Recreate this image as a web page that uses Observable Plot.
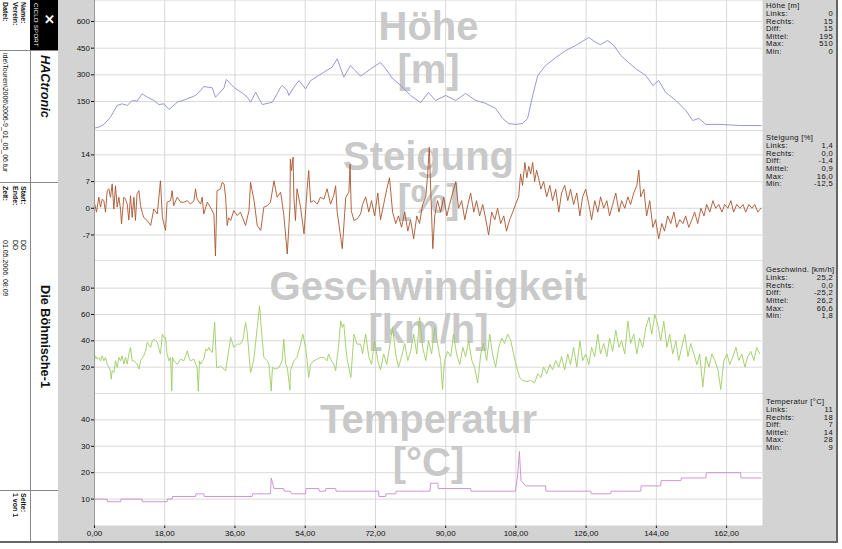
<!DOCTYPE html>
<html><head><meta charset="utf-8">
<script src="https://cdn.jsdelivr.net/npm/d3@7"></script>
<script src="https://cdn.jsdelivr.net/npm/@observablehq/plot@0.6"></script>
<style>
body{margin:0;background:#fff;font-family:"Liberation Sans",Arial,sans-serif;}
#root{position:relative;width:842px;height:549px;overflow:hidden;background:#fff;}
#root div{position:absolute;}
.v{writing-mode:vertical-rl;white-space:nowrap;color:#111;}
.s{height:7.6px;line-height:7.6px;font-size:7.6px;letter-spacing:0.35px;color:#111;white-space:nowrap;overflow:visible;}
</style></head><body><div id="root"></div><script>
// ---------- data ----------
const xTicks = [0,18,36,54,72,90,108,126,144,162];
const hoeheTicks = [150,300,450,600];
const steigTicks = [-7,0,7,14];
const speedTicks = [20,40,60,80];
const tempTicks = [10,20,30,40];

const hoehe = [[0,0],[1.1,6],[2.4,21],[4.1,62],[5.8,128],[7.1,137],[8.4,128],[9.7,156],[10.9,152],[12.2,193],[13.6,174],[15.2,156],[16.5,133],[17.8,137],[19.1,105],[21.2,146],[23.3,161],[25.9,184],[27.2,212],[28.0,234],[30.2,227],[31.0,174],[33.2,227],[33.8,274],[35.7,230],[37.9,197],[39.2,174],[40.0,146],[41.3,202],[43.0,133],[45.6,146],[47.7,230],[48.1,240],[49.4,212],[49.8,184],[51.1,230],[52.4,268],[54.1,221],[55.4,268],[58.8,315],[60.9,343],[62.2,390],[63.9,287],[65.6,352],[68.2,292],[69.5,313],[72.0,352],[73.3,369],[74.6,335],[76.4,279],[78.5,240],[81.0,184],[83.6,144],[85.6,201],[87.4,156],[90.0,184],[92.6,156],[95.1,195],[97.7,156],[100.3,139],[102.8,111],[104.6,55],[106.1,26],[107.9,21],[109.7,26],[111.0,55],[112.3,184],[113.6,296],[115.6,352],[118.2,397],[120.8,437],[123.3,465],[125.4,493],[126.7,510],[128.5,482],[129.7,470],[131.5,493],[133.1,465],[134.9,409],[136.9,369],[138.7,335],[141.3,296],[143.1,240],[144.6,268],[146.4,201],[149.0,156],[151.6,99],[153.3,43],[154.9,55],[156.7,21],[160.5,21],[165.6,15],[170.8,15]];

const steigung = [[0,1.4],[0.51,-1.0],[1.11,2.9],[1.54,0.3],[1.97,2.4],[2.39,2.0],[2.82,-1.0],[3.25,4.6],[3.68,5.1],[4.1,2.9],[4.53,6.4],[4.96,-0.2],[5.38,5.9],[5.81,0.3],[6.24,2.9],[6.67,-0.2],[6.92,-4.1],[7.52,2.9],[7.95,2.4],[8.38,1.1],[8.8,-3.1],[9.23,3.3],[9.66,-2.4],[10.1,2.9],[10.5,-3.2],[10.9,3.8],[11.4,4.6],[11.8,0.7],[12.2,-1.0],[12.6,-2.4],[13.5,-3.2],[14.4,-4.5],[15.2,-0.2],[16.1,-1.5],[16.9,7.2],[17.4,-2.4],[17.8,-4.1],[18.2,-5.8],[18.6,1.6],[19.5,2.0],[19.9,4.6],[20.3,0.7],[21.2,2.9],[22.1,1.6],[22.9,1.6],[23.8,2.0],[24.6,1.1],[25.5,2.0],[25.9,5.1],[26.3,2.4],[27.2,1.1],[27.6,2.9],[28.0,-1.5],[28.9,1.6],[29.7,0.3],[30.6,-1.5],[31.0,-12.5],[31.4,4.6],[32.3,5.1],[32.7,6.8],[33.2,6.4],[33.6,2.9],[34.0,-4.5],[34.4,-2.5],[34.9,-3.2],[35.7,-0.6],[36.6,-1.9],[37.4,-1.0],[38.7,-4.5],[39.6,-0.6],[40.0,6.8],[40.4,4.6],[40.9,2.0],[41.7,-4.5],[42.6,-5.8],[43.4,0.3],[44.3,0.7],[45.1,1.6],[46.0,7.2],[46.8,2.9],[47.7,4.2],[48.5,-1.5],[49.4,-12.0],[50.1,0.3],[50.2,12.9],[50.5,9.9],[50.9,13.4],[51.1,2.9],[51.5,-3.2],[51.9,5.1],[52.8,0.3],[53.7,-6.7],[54.5,5.1],[54.9,9.9],[55.4,1.6],[56.2,2.0],[57.1,1.1],[57.9,2.9],[58.8,2.4],[59.6,5.1],[60.5,1.1],[61.3,3.3],[61.8,5.9],[62.2,-1.0],[63.1,-7.6],[63.5,-10.6],[64.4,2.9],[65.2,4.2],[65.5,11.6],[65.8,-0.6],[66.5,-3.2],[67.3,-2.8],[68.2,-1.5],
[68.7,1],[69.5,3],[70.3,-1],[71.0,2],[71.8,-2],[72.6,4],[73.3,-3],[74.1,1],[74.9,5],[75.6,8],[76.4,-1],[77.2,-4],[77.9,-2],[78.7,-5],[79.5,-1],[80.3,-6],[81.0,-3],[81.8,-8],[82.6,-2],[83.3,-4],[84.1,1],[84.9,3],[85.4,9],[85.8,16],[86.2,4],[86.7,-10.6],[87.2,-2],[87.9,2],[88.7,-1],[89.5,3],[90.3,-2],[91.0,1],[91.8,4],[92.6,7],[93.3,0],[94.1,2],[94.9,-3],[95.7,1],[96.4,4],[97.2,-1],[97.9,2],[98.7,-2],[99.5,1],[100.3,-3],[101.0,-7],[101.8,-1],[102.6,-3],[103.3,0],[104.1,-4],[104.9,-2],[105.6,-6],[106.4,-3],[107.2,-1],[107.9,1],[108.7,3],[109.2,9],[109.7,6],[110.3,12],[110.8,8],[111.3,11],[111.8,9],[112.3,12],[112.8,7],[113.3,10],[113.8,8],[114.4,5],[115.1,7],[115.9,3],[116.7,6],[117.4,2],[118.2,5],[119.0,-1],[119.7,4],[120.5,6],[121.3,2],[122.0,5],[122.8,1],[123.6,4],[124.4,-2],[125.1,3],[125.9,5],[126.7,1],[127.4,-3],[128.2,2],[129.0,-1],[129.7,3],[130.5,0],[131.3,2],[132.0,-2],[132.8,1],[133.6,4],[134.4,-1],[135.1,2],[135.9,0],[136.7,3],[137.4,1],[138.2,4],[139.0,6],[139.5,10],[140.0,3],[140.8,5],[141.5,-2],[142.3,2],[143.1,-5],[143.8,-3],[144.6,-8],[145.4,-4],[146.1,-6],[146.9,-2],[147.7,-4],[148.5,-1],[149.2,-5],[150.0,-3],[150.8,-4],[151.5,-2],[152.3,-5],[153.1,-3],[153.8,-1],[154.6,-4],[155.4,0],[156.2,-2],[156.9,1],[157.7,-1],[158.5,2],[159.2,0],[160.0,1],[160.8,-1],[161.5,1],[162.3,0],[163.1,2],[163.8,-1],[164.6,1],[165.4,0],[166.2,1],[166.9,-1],[167.7,1],[168.5,0],[169.2,1],[170.0,-1],[170.8,0]];

const speed = [[0,25.2],[0.26,28.6],[0.68,26.1],[1.11,27.4],[1.54,24.8],[1.97,28.6],[2.39,24.8],[2.82,27.4],[3.25,22.3],[3.68,19.8],[4.1,17.2],[4.27,10.9],[4.53,17.2],[4.96,16.0],[5.38,24.8],[5.81,19.8],[6.24,27.4],[6.67,24.8],[7.09,28.6],[7.52,22.3],[7.95,27.4],[8.38,22.3],[8.8,29.9],[9.23,35.0],[9.66,24.8],[10.1,24.8],[10.9,22.3],[11.4,18.5],[11.8,24.8],[12.6,28.6],[13.1,32.4],[13.5,38.8],[14.4,35.0],[14.8,40.0],[15.2,41.3],[16.1,38.8],[16.9,29.9],[17.4,45.1],[17.8,42.6],[18.2,42.6],[18.6,29.9],[19.1,24.8],[19.5,27.4],[19.8,2.0],[20.0,27.4],[20.3,24.8],[21.2,22.3],[22.1,26.1],[22.9,24.8],[23.8,32.4],[24.2,27.4],[24.6,24.8],[25.5,26.1],[25.9,22.3],[26.3,19.8],[26.6,1.8],[26.9,24.8],[27.2,22.3],[28.0,26.1],[28.5,33.7],[28.9,32.4],[29.3,35.0],[29.7,32.4],[30.2,31.2],[30.8,54.0],[31.3,19.8],[31.9,19.8],[32.3,21.0],[33.2,18.5],[33.6,17.2],[34.0,24.8],[34.9,42.6],[35.7,35.0],[36.6,37.5],[37.4,37.5],[38.1,41.3],[38.7,54.0],[39.1,47.6],[39.6,29.9],[40.0,16.0],[40.4,19.8],[40.9,27.4],[41.7,50.2],[42.3,66.6],[42.8,47.6],[43.4,27.4],[44.3,24.8],[44.7,22.3],[45.3,1.8],[45.6,19.8],[46.4,18.5],[47.3,19.8],[48.1,24.8],[48.5,41.3],[49.0,22.3],[49.4,19.8],[50.1,2.5],[50.2,17.2],[51.1,24.8],[51.9,27.4],[52.8,37.5],[53.4,45.1],[54.1,35.0],[54.5,24.8],[54.9,12.2],[55.4,22.3],[56.2,24.8],[57.1,26.1],[57.9,27.4],[58.8,27.4],[59.6,24.8],[60.0,29.9],[60.5,26.1],[61.3,22.3],[61.8,17.2],[62.6,37.5],[63.1,55.2],[63.5,50.2],[63.9,52.7],[64.4,35.0],[64.8,24.8],[65.2,19.8],[65.7,12.2],[66.5,45.1],[67.3,37.5],[68.2,37.5],
[68.7,30],[69.5,45],[70.3,28],[71.0,22],[71.8,40],[72.6,25],[73.3,18],[74.1,30],[74.9,22],[75.6,35],[76.4,50],[77.2,30],[77.9,20],[78.7,28],[79.5,38],[80.3,25],[81.0,32],[81.8,45],[82.6,30],[83.3,58],[84.1,35],[84.9,25],[85.6,40],[86.4,30],[87.2,50],[87.9,38],[88.7,25],[89.2,3],[89.7,25],[90.5,32],[91.3,28],[92.0,45],[92.8,30],[93.6,22],[94.4,35],[95.1,28],[95.9,40],[96.7,25],[97.4,20],[98.2,8],[99.0,30],[99.7,38],[100.5,25],[101.3,45],[102.0,30],[102.8,20],[103.6,35],[104.4,42],[105.1,38],[105.9,45],[106.7,40],[107.4,30],[108.2,20],[109.0,12],[109.7,10],[110.8,9],[111.8,10],[112.8,8],[113.6,15],[114.4,12],[115.1,20],[115.9,15],[116.7,22],[117.4,18],[118.2,25],[119.0,20],[119.7,28],[120.5,18],[121.3,30],[122.0,22],[122.8,35],[123.6,20],[124.4,40],[125.1,25],[125.9,30],[126.7,22],[127.4,35],[128.2,28],[129.0,45],[129.7,30],[130.5,38],[131.3,28],[132.0,42],[132.8,32],[133.6,48],[134.4,35],[135.1,40],[135.9,30],[136.7,55],[137.4,38],[138.2,45],[139.0,30],[139.7,42],[140.5,35],[141.3,50],[142.1,58],[142.8,45],[143.6,60],[144.4,52],[145.1,40],[145.9,55],[146.7,35],[147.4,45],[148.2,30],[149.0,40],[149.7,25],[150.5,35],[151.3,45],[152.1,28],[152.8,38],[153.6,30],[154.4,22],[155.1,30],[155.9,5],[156.7,28],[157.5,20],[158.2,30],[159.0,25],[159.8,18],[160.5,3],[161.3,25],[162.1,30],[162.8,22],[163.6,28],[164.4,35],[165.1,25],[165.9,30],[166.7,20],[167.4,28],[168.2,32],[169.0,25],[169.7,35],[170.5,30]];

const temperatur = [[0,10],[3.25,10],[3.3,9],[6.7,9],[6.75,10],[12.2,10],[12.25,9],[18.6,9],[18.7,10],[19.9,10],[20.0,11],[25.9,11],[26.0,12],[28.0,12],[28.1,11],[40.4,11],[40.5,12],[45.1,12],[45.3,18],[46.0,14],[48.5,14],[48.6,13],[50.2,13],[50.5,12],[54.1,12],[54.2,14],[57.5,14],[57.6,13],[59.2,13],[59.3,14],[61.8,14],[61.9,13],[72.8,13],[72.9,11],[74.6,11],[74.7,12],[77.2,12],[77.3,13],[86.0,13],[86.1,16],[88.0,16],[88.1,14],[96.4,14],[96.5,13],[107.9,13],[108.5,20],[108.9,28],[109.3,17],[110.5,15],[115.6,15],[115.7,13],[127.2,13],[127.3,12],[132.3,12],[132.4,13],[140,13],[140.1,15],[145.1,15],[145.2,17],[150.3,17],[150.4,18],[156.7,18],[156.8,20],[165.6,20],[165.7,18],[170.8,18]];

const statLabels = ["Links:","Rechts:","Diff:","Mittel:","Max:","Min:"];
const statTitles = ["Höhe [m]","Steigung [%]","Geschwind. [km/h]","Temperatur [°C]"];
const statValues = [
  ["0","15","15","195","510","0"],
  ["1,4","0,0","-1,4","0,9","16,0","-12,5"],
  ["25,2","0,0","-25,2","26,2","66,6","1,8"],
  ["11","18","7","14","28","9"]
];
const bigTitles = [["Höhe","[m]"],["Steigung","[%]"],["Geschwindigkeit","[km/h]"],["Temperatur","[°C]"]];

// ---------- layout ----------
const root = document.getElementById("root");
function box(css, text, cls) {
  const d = document.createElement("div");
  d.style.cssText = css;
  if (cls) d.className = cls;
  if (text != null) d.textContent = text;
  root.appendChild(d);
  return d;
}
// grey area
box("left:58px;top:0;width:778px;height:541px;background:#d3d3d3;");

const panels = [
  {top:0, h:130, dom:[-13,718], ticks:hoeheTicks, data:hoehe, color:"#8c8cd2"},
  {top:130, h:130, dom:[-13.7,20.4], ticks:steigTicks, data:steigung, color:"#a9532e"},
  {top:260, h:133, dom:[0,101], ticks:speedTicks, data:speed, color:"#9dcc62"},
  {top:393, h:132, dom:[0,50], ticks:tempTicks, data:temperatur, color:"#c98ad0"}
];
const fmtX = d => d.toFixed(2).replace(".", ",");

panels.forEach((p, i) => {
  const last = i === panels.length - 1;
  const rows = p.data.map(([km, v]) => ({km, v}));
  const marks = [
    Plot.frame({fill:"white", stroke:null}),
    Plot.gridX(xTicks, {stroke:"#d9d9d9", strokeOpacity:1}),
    Plot.gridY(p.ticks, {stroke:"#d9d9d9", strokeOpacity:1}),
    Plot.text([bigTitles[i][0]], {text:d=>d, frameAnchor:"top", dy:39, lineAnchor:"bottom", fontSize:40, fontWeight:"bold", fill:"#c9c9c9", fontFamily:"Liberation Sans"}),
    Plot.text([bigTitles[i][1]], {text:d=>d, frameAnchor:"top", dy:82, lineAnchor:"bottom", fontSize:40, fontWeight:"bold", fill:"#c9c9c9", fontFamily:"Liberation Sans"}),
    Plot.line(rows, {x:"km", y:"v", stroke:p.color, strokeWidth:0.9}),
    Plot.ruleX([0], {stroke:"#9a9a9a"})
  ];
  if (!last) marks.push(Plot.frame({anchor:"bottom", stroke:"#bdbdbd"}));
  const svg = Plot.plot({
    width:704, height:p.h + (last ? 16 : 0),
    marginLeft:36, marginRight:0, marginTop:0, marginBottom:last ? 16 : 0,
    x:{domain:[0,171.2], label:null, axis: last ? "bottom" : null, ticks:xTicks, tickFormat:fmtX, tickSize:3, tickPadding:2},
    y:{domain:p.dom, label:null, ticks:p.ticks, tickFormat:d=>String(d), tickSize:3, tickPadding:1.5},
    style:{background:"transparent", fontFamily:"Liberation Sans, Arial, sans-serif", fontSize:"8px", color:"#111", overflow:"visible"},
    marks
  });
  const holder = box(`left:58px;top:${p.top}px;`);
  holder.appendChild(svg);
});

// stats panel
const statStart = [5.7, 138, 270, 401.7];
statTitles.forEach((t, i) => {
  const c0 = statStart[i];
  box(`left:766px;top:${c0-3.8}px;`, t, "s");
  statLabels.forEach((l, j) => {
    const c = c0 + 8 + j*7.6;
    box(`left:766px;top:${c-3.8}px;`, l, "s");
    box(`left:800px;width:33px;text-align:right;top:${c-3.8}px;`, statValues[i][j], "s");
  });
});

// borders
box("left:836px;top:0;width:1.5px;height:543px;background:#666;");
box("left:0;top:541px;width:837.5px;height:1.5px;background:#666;");

// left sidebar
box("left:30px;top:0;width:28px;height:50px;background:#000;");
box("left:30px;top:50px;width:1px;height:491px;background:#888;");
box("left:0;top:50px;width:58px;height:1px;background:#888;");
box("left:0;top:182px;width:58px;height:1px;background:#888;");
box("left:0;top:490px;width:58px;height:1px;background:#888;");
function vtext(cx, top, text, fs, extra) {
  const lh = 8;
  return box(`left:${cx-lh/2}px;top:${top}px;width:${lh}px;line-height:${lh}px;font-size:${fs}px;${extra||""}`, text, "v");
}
vtext(23, 2, "Name:", 7, "font-weight:bold;");
vtext(15, 2, "Verein:", 7, "font-weight:bold;");
vtext(5, 2, "Datei:", 7, "font-weight:bold;");
vtext(5, 53, "ide\\Touren\\2006\\2006-9_01_05_06.tur", 7, "");
vtext(23, 186, "Start:", 7, "font-weight:bold;");
vtext(15, 186, "Ende:", 7, "font-weight:bold;");
vtext(5, 186, "Zeit:", 7, "font-weight:bold;");
vtext(23, 240, "DD", 7, "");
vtext(15, 240, "DD", 7, "");
vtext(5, 240, "01.05.2006, 08:09", 7, "");
vtext(23, 493, "Seite:", 7, "font-weight:bold;");
vtext(15, 493, "1 von 1", 7, "font-weight:bold;");
box("left:36.5px;top:55px;width:15px;line-height:15px;font-size:12.7px;font-weight:bold;font-style:italic;", "HACtronic", "v");
box("left:36.5px;top:285px;width:15px;line-height:15px;font-size:12.7px;font-weight:bold;", "Die Böhmische-1", "v");
box("left:31.5px;top:3px;width:8px;line-height:8px;font-size:6px;color:#fff;letter-spacing:0.3px;", "CICLO SPORT", "v");
box("left:41px;top:12px;width:14px;line-height:14px;font-size:13px;color:#fff;font-weight:bold;", "✕", "v");
</script></body></html>
